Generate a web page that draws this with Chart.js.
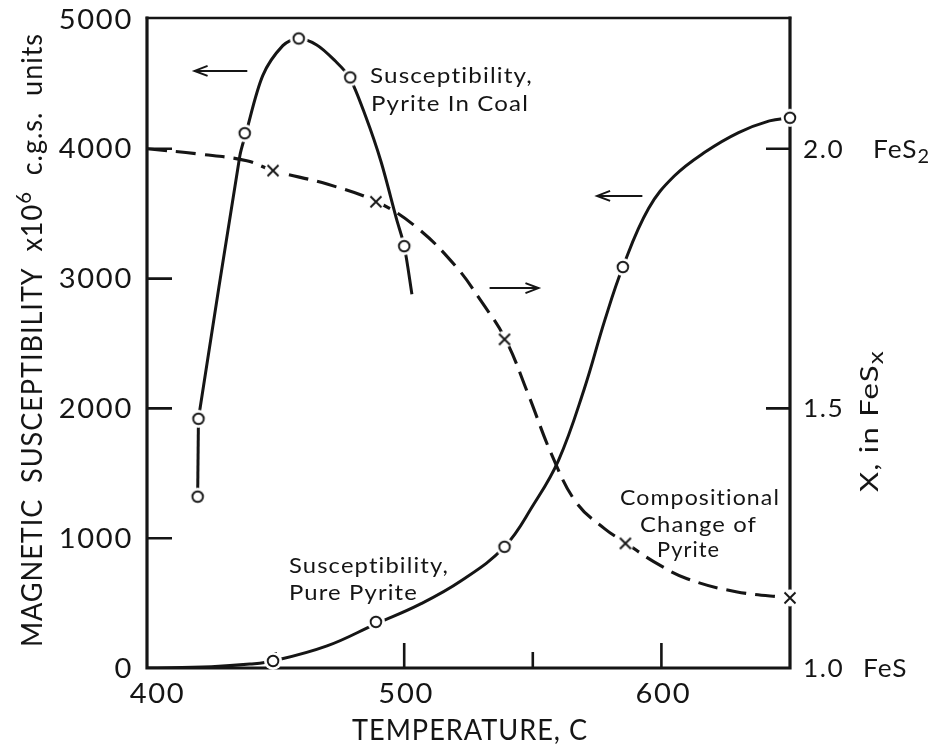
<!DOCTYPE html>
<html>
<head>
<meta charset="utf-8">
<script src="https://cdn.jsdelivr.net/npm/chart.js@4"></script>
<style>
  html, body { margin: 0; padding: 0; background: #fff; }
  canvas { display: block; }
</style>
</head>
<body>
<canvas id="chart" width="946" height="749"></canvas>
<script>
// measured points (circles / crosses)
const coalTemp = [419.7, 420, 438, 459, 479, 500];
const coalSusc = [1320, 1920, 4120, 4850, 4550, 3250];
const pureTemp = [449, 489, 539, 585, 650];
const pureSusc = [54, 355, 934, 3089, 4239];
const compTemp = [449, 489, 539, 586, 650];
const compX = [1.958, 1.898, 1.633, 1.240, 1.135];

// drawn curves
const coalStubT = [419.7, 420];
const coalStubS = [1320, 1920];
const coalCurveT = [420, 436.1, 438.4, 445, 452.8, 458.6, 466, 473, 478.8, 485, 491, 497, 500, 503];
const coalCurveS = [1920, 3946, 4116, 4564, 4795, 4849, 4800, 4680, 4548, 4250, 3900, 3460, 3251, 2880];
const pureCurveT = [400, 425, 440, 449, 470, 489, 506, 522, 539, 550, 560, 570, 578, 585, 595, 605, 617, 630, 642, 650];
const pureCurveS = [0, 10, 30, 54, 170, 340, 490, 670, 934, 1250, 1600, 2150, 2680, 3089, 3540, 3790, 3975, 4125, 4215, 4239];
const compCurveT = [400, 420, 438.8, 449, 470, 489.3, 505, 520, 530, 539.4, 548, 557.6, 567, 578, 586.4, 597, 610, 629, 650];
const compCurveX = [2.0, 1.99, 1.977, 1.958, 1.932, 1.898, 1.848, 1.774, 1.706, 1.633, 1.53, 1.408, 1.318, 1.268, 1.240, 1.205, 1.172, 1.147, 1.135];

// axis ticks
const xLabels = [400, 500, 600];
const xMajor = [500, 600];
const xMinor = [450, 550];
const yLabels = [0, 1000, 2000, 3000, 4000, 5000];
const yTicks = [1000, 2000, 3000, 4000];
const y2Labels = [1.0, 1.5, 2.0];
const y2Ticks = [1.5, 2.0];
const y2Names = ['FeS', '', 'FeS2'];

const FONT = 'Lato, "DejaVu Sans", sans-serif';
const INK = '#151515';

const pt = (xs, ys) => xs.map((v, i) => ({ x: v, y: ys[i] }));

function circleMark() {
  const c = document.createElement('canvas');
  c.width = c.height = 24;
  const g = c.getContext('2d');
  g.fillStyle = '#fff';
  g.beginPath(); g.arc(12, 12, 9, 0, Math.PI * 2); g.fill();
  g.strokeStyle = INK; g.lineWidth = 1.9;
  g.beginPath(); g.arc(12, 12, 5.3, 0, Math.PI * 2); g.stroke();
  return c;
}

function crossMark() {
  const c = document.createElement('canvas');
  c.width = c.height = 24;
  const g = c.getContext('2d');
  g.fillStyle = '#fff';
  g.beginPath(); g.arc(12, 12, 8.5, 0, Math.PI * 2); g.fill();
  g.strokeStyle = INK; g.lineWidth = 1.9;
  g.beginPath();
  g.moveTo(6.5, 6.5); g.lineTo(17.5, 17.5);
  g.moveTo(17.5, 6.5); g.lineTo(6.5, 17.5);
  g.stroke();
  return c;
}

// text in runs (for sub/superscripts), optionally squeezed to a width
function runs(ctx, parts, x, y, o) {
  ctx.save();
  if ('letterSpacing' in ctx) ctx.letterSpacing = (o.ls || 1) + 'px';
  let total = 0;
  parts.forEach(p => {
    ctx.font = (p.size || o.size) + 'px ' + FONT;
    p.w = ctx.measureText(p.t).width;
    total += p.w;
  });
  const sx = o.width ? o.width / total : (o.sx || 1);
  ctx.translate(x, y);
  if (o.rot) ctx.rotate(o.rot);
  ctx.scale(sx, 1);
  let cx = o.align === 'center' ? -total / 2 : o.align === 'right' ? -total : 0;
  ctx.fillStyle = INK;
  ctx.textAlign = 'left';
  ctx.textBaseline = 'alphabetic';
  parts.forEach(p => {
    ctx.font = (p.size || o.size) + 'px ' + FONT;
    ctx.fillText(p.t, cx, p.dy || 0);
    cx += p.w;
  });
  ctx.restore();
}

function arrow(ctx, x1, y1, x2, y2) {
  const d = Math.sign(x2 - x1);
  ctx.beginPath();
  ctx.moveTo(x1, y1); ctx.lineTo(x2, y2);
  ctx.moveTo(x2 - d * 13, y2 - 5); ctx.lineTo(x2, y2); ctx.lineTo(x2 - d * 13, y2 + 5);
  ctx.stroke();
}

// notes in data units (temperature, susceptibility)
const notes = [
  { t: 'Susceptibility,', x: 486.7, y: 4507, w: 163 },
  { t: 'Pyrite In Coal', x: 487.1, y: 4291, w: 158 },
  { t: 'Susceptibility,', x: 455.2, y: 732, w: 160 },
  { t: 'Pure Pyrite', x: 455.2, y: 524, w: 129 },
  { t: 'Compositional', x: 583.9, y: 1256, w: 160 },
  { t: 'Change of', x: 591.7, y: 1048, w: 117 },
  { t: 'Pyrite', x: 598.3, y: 855, w: 63 }
];
const arrows = [
  [439, 4600, 418.5, 4600],
  [592.6, 3637, 575, 3637],
  [533.2, 2927, 552.2, 2927]
];

const framePlugin = {
  id: 'frame',
  beforeDatasetsDraw(chart) {
    const { ctx, chartArea: a, scales: { x, y, y2 } } = chart;
    ctx.save();
    ctx.strokeStyle = INK;
    ctx.lineCap = 'square';
    ctx.lineWidth = 3.2;
    ctx.beginPath();
    ctx.moveTo(a.left, a.top - 1);
    ctx.lineTo(a.left, a.bottom);
    ctx.lineTo(a.right, a.bottom);
    ctx.lineTo(a.right, a.top - 1);
    ctx.stroke();
    ctx.lineWidth = 2.6;
    ctx.beginPath();
    ctx.moveTo(a.left, a.top - 1);
    ctx.lineTo(a.right, a.top - 1);
    ctx.stroke();

    ctx.lineCap = 'butt';
    ctx.lineWidth = 2.6;
    ctx.beginPath();
    yTicks.forEach(v => { const p = y.getPixelForValue(v); ctx.moveTo(a.left, p); ctx.lineTo(a.left + 25, p); });
    y2Ticks.forEach(v => { const p = y2.getPixelForValue(v); ctx.moveTo(a.right, p); ctx.lineTo(a.right - 24, p); });
    xMajor.forEach(v => { const p = x.getPixelForValue(v); ctx.moveTo(p, a.bottom); ctx.lineTo(p, a.bottom - 25); });
    xMinor.forEach(v => { const p = x.getPixelForValue(v); ctx.moveTo(p, a.bottom); ctx.lineTo(p, a.bottom - 16); });
    ctx.stroke();
    ctx.restore();
  },
  afterDatasetsDraw(chart) {
    const { ctx, chartArea: a, scales: { x, y, y2 } } = chart;

    yLabels.forEach(v => {
      runs(ctx, [{ t: String(v) }], a.left - 14, y.getPixelForValue(v) + 9.5, { size: 26, sx: 1.12, ls: 1.5, align: 'right' });
    });
    xLabels.forEach((v, i) => {
      runs(ctx, [{ t: String(v) }], x.getPixelForValue(v) + (i === 0 ? 10.5 : 2), a.bottom + 35, { size: 26, sx: 1.12, ls: 1.5, align: 'center' });
    });
    y2Labels.forEach((v, i) => {
      const p = y2.getPixelForValue(v) + 9;
      runs(ctx, [{ t: v.toFixed(1) }], a.right + 13, p, { size: 25, sx: 1.05, ls: 1.5 });
      if (y2Names[i] === 'FeS2') {
        runs(ctx, [{ t: 'FeS' }, { t: '2', size: 19, dy: 5 }], a.right + 83, p, { size: 25, sx: 1.05 });
      } else if (y2Names[i]) {
        runs(ctx, [{ t: y2Names[i] }], a.right + 73, p, { size: 25, sx: 1.05 });
      }
    });

    runs(ctx, [{ t: 'TEMPERATURE, C' }], (a.left + a.right) / 2 + 1.5, a.bottom + 72, { size: 28, width: 236, align: 'center' });
    runs(ctx, [
      { t: 'MAGNETIC  SUSCEPTIBILITY  x10' },
      { t: '6', size: 21, dy: -11 },
      { t: '  c.g.s.  units' }
    ], a.left - 105, 340, { size: 28, width: 614, align: 'center', rot: -Math.PI / 2 });
    runs(ctx, [{ t: 'X, in FeS' }, { t: 'x', size: 21, dy: 5 }], a.right + 88, 421,
      { size: 25, width: 142, align: 'center', rot: -Math.PI / 2 });

    notes.forEach(n => {
      runs(ctx, [{ t: n.t }], x.getPixelForValue(n.x), y.getPixelForValue(n.y), { size: 21, width: n.w });
    });

    ctx.save();
    ctx.strokeStyle = INK;
    ctx.lineWidth = 2;
    arrows.forEach(r => arrow(ctx, x.getPixelForValue(r[0]), y.getPixelForValue(r[1]), x.getPixelForValue(r[2]), y.getPixelForValue(r[3])));
    ctx.restore();
  }
};

const circ = circleMark();
const cross = crossMark();

const curve = { showLine: true, pointRadius: 0, borderColor: INK, borderWidth: 3, tension: 0.4, order: 1 };

new Chart(document.getElementById('chart'), {
  type: 'scatter',
  data: {
    datasets: [
      { label: 'Pyrite in coal', data: pt(coalTemp, coalSusc), yAxisID: 'y', pointStyle: circ, pointRadius: 9, showLine: false, clip: false, order: 0 },
      { label: 'Pure pyrite', data: pt(pureTemp, pureSusc), yAxisID: 'y', pointStyle: circ, pointRadius: 9, showLine: false, clip: false, order: 0 },
      { label: 'Composition', data: pt(compTemp, compX), yAxisID: 'y2', pointStyle: cross, pointRadius: 9, showLine: false, clip: false, order: 0 },
      Object.assign({ label: 'coal stub', data: pt(coalStubT, coalStubS), yAxisID: 'y' }, curve, { tension: 0 }),
      Object.assign({ label: 'coal curve', data: pt(coalCurveT, coalCurveS), yAxisID: 'y' }, curve, { tension: 0.3 }),
      Object.assign({ label: 'pure curve', data: pt(pureCurveT, pureCurveS), yAxisID: 'y' }, curve),
      Object.assign({ label: 'comp curve', data: pt(compCurveT, compCurveX), yAxisID: 'y2' }, curve, { borderDash: [20, 9], borderWidth: 3.1 })
    ]
  },
  options: {
    responsive: false,
    animation: false,
    devicePixelRatio: 1,
    events: [],
    layout: { padding: { left: 147, right: 156, top: 19, bottom: 81 } },
    scales: {
      x: { type: 'linear', min: 400, max: 650, display: false },
      y: { type: 'linear', min: 0, max: 5000, display: false },
      y2: { type: 'linear', position: 'right', min: 1.0, max: 2.25, display: false }
    },
    plugins: {
      legend: { display: false },
      tooltip: { enabled: false }
    }
  },
  plugins: [framePlugin]
});
</script>
</body>
</html>
